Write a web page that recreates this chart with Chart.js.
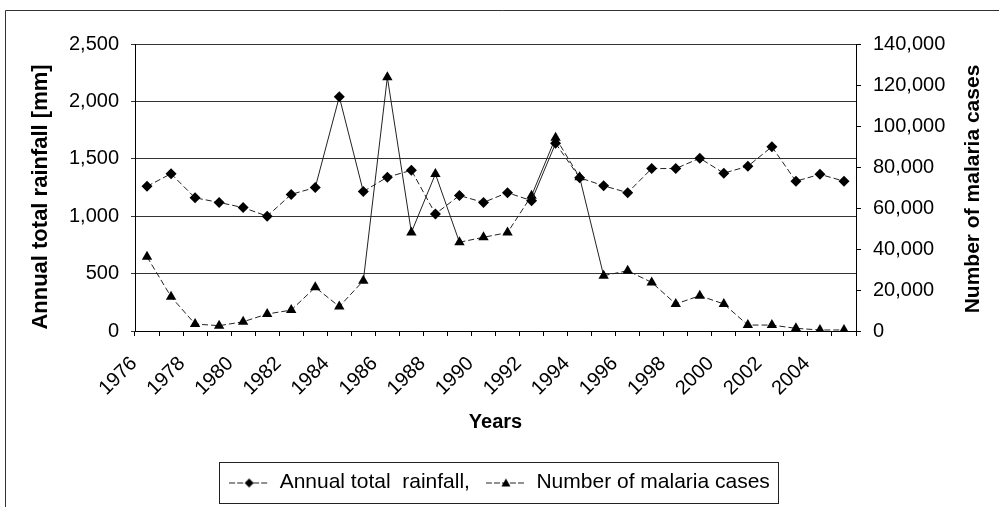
<!DOCTYPE html>
<html>
<head>
<meta charset="utf-8">
<script src="https://cdn.jsdelivr.net/npm/chart.js@4/dist/chart.umd.min.js"></script>
<style>
  html, body { margin: 0; padding: 0; background: #fff; }
</style>
</head>
<body>
<canvas id="chart" width="999" height="507"></canvas>
<script>
// Data
const years = [1976, 1977, 1978, 1979, 1980, 1981, 1982, 1983, 1984, 1985,
               1986, 1987, 1988, 1989, 1990, 1991, 1992, 1993, 1994, 1995,
               1996, 1997, 1998, 1999, 2000, 2001, 2002, 2003, 2004, 2005];

const rainfall = [1260, 1370, 1160, 1120, 1075, 1000, 1190, 1250, 2040, 1215,
                  1340, 1400, 1020, 1180, 1120, 1205, 1135, 1635, 1335, 1265,
                  1205, 1415, 1415, 1505, 1375, 1435, 1605, 1305, 1365, 1305];

const malariaCases = [36200, 16700, 3400, 2600, 4500, 8300, 10200, 21300, 11900, 24500,
                      123800, 48100, 76600, 43300, 45700, 48000, 66000, 94300, 75000, 27000,
                      29400, 23700, 13200, 17200, 13200, 2900, 2900, 1300, 500, 500];

const seriesNames = ['Annual total  rainfall,', 'Number of malaria cases'];
const axisTitles = ['Annual total rainfall [mm]', 'Number of malaria cases', 'Years'];

const FONT = "'Liberation Sans', Arial, sans-serif";
const fmt = v => Number(v).toLocaleString('en-US');

// thin lines look solid when steep, broken when flat in the scan
function segDash(ctx) {
  const dx = Math.abs(ctx.p1.x - ctx.p0.x);
  const dy = Math.abs(ctx.p1.y - ctx.p0.y);
  return dy > 2 * dx ? [] : [6, 3];
}

// small line+marker icons for the legend
function legendIcon(kind) {
  const c = document.createElement('canvas');
  c.width = 40; c.height = 12;
  const g = c.getContext('2d');
  g.strokeStyle = '#222';
  g.lineWidth = 1;
  g.setLineDash([6, 2]);
  g.beginPath(); g.moveTo(0, 6.5); g.lineTo(40, 6.5); g.stroke();
  g.fillStyle = '#000';
  g.beginPath();
  if (kind === 'diamond') {
    g.moveTo(20, 2); g.lineTo(24.5, 6.5); g.lineTo(20, 11); g.lineTo(15.5, 6.5);
  } else {
    g.moveTo(20, 2); g.lineTo(24.5, 10); g.lineTo(15.5, 10);
  }
  g.closePath(); g.fill();
  return c;
}
const legendIcons = [legendIcon('diamond'), legendIcon('triangle')];

function verticalText(ctx, text, x, y, size) {
  ctx.save();
  ctx.translate(x, y);
  ctx.rotate(-Math.PI / 2);
  ctx.font = 'bold ' + size + 'px ' + FONT;
  ctx.fillStyle = '#000';
  ctx.textAlign = 'center';
  ctx.textBaseline = 'middle';
  ctx.fillText(text, 0, 0);
  ctx.restore();
}

const framePlugin = {
  id: 'frame',
  beforeDraw(chart) {
    const ctx = chart.ctx;
    ctx.save();
    ctx.strokeStyle = '#333';
    ctx.lineWidth = 1;
    ctx.beginPath();
    ctx.moveTo(5.5, 507); ctx.lineTo(5.5, 10.5); ctx.lineTo(999, 10.5);
    ctx.stroke();
    ctx.restore();
  },
  afterDraw(chart) {
    const ctx = chart.ctx;
    // both y titles read bottom-to-top
    verticalText(ctx, axisTitles[0], 41, 197, 22);
    verticalText(ctx, axisTitles[1], 973, 189, 21);

    // border round the legend
    const boxes = chart.legend.legendHitBoxes;
    if (boxes && boxes.length) {
      const left = Math.min(...boxes.map(b => b.left)) - 10;
      const right = Math.max(...boxes.map(b => b.left + b.width)) + 8;
      const top = boxes[0].top - 10;
      const bottom = boxes[0].top + boxes[0].height + 10;
      ctx.save();
      ctx.strokeStyle = '#222';
      ctx.lineWidth = 1;
      ctx.strokeRect(Math.round(left) + 0.5, Math.round(top) + 0.5,
                     Math.round(right - left), Math.round(bottom - top));
      ctx.restore();
    }
  }
};

new Chart(document.getElementById('chart'), {
  type: 'line',
  data: {
    labels: years,
    datasets: [{
      label: seriesNames[0],
      data: rainfall,
      yAxisID: 'y',
      borderColor: '#222',
      borderWidth: 1,
      segment: { borderDash: segDash },
      pointStyle: 'rectRot',
      pointRadius: 5.5,
      pointBackgroundColor: '#000',
      pointBorderColor: '#000',
      pointBorderWidth: 0,
      tension: 0
    }, {
      label: seriesNames[1],
      data: malariaCases,
      yAxisID: 'y1',
      borderColor: '#222',
      borderWidth: 1,
      segment: { borderDash: segDash },
      pointStyle: 'triangle',
      pointRadius: 6,
      pointBackgroundColor: '#000',
      pointBorderColor: '#000',
      pointBorderWidth: 0,
      tension: 0
    }]
  },
  options: {
    responsive: false,
    animation: false,
    layout: { padding: { top: 44, bottom: 4, left: 0, right: 0 } },
    scales: {
      x: {
        type: 'category',
        offset: true,
        grid: { display: true, drawOnChartArea: false, drawTicks: true, tickLength: 5, color: '#000', offset: true },
        border: { display: true, color: '#000' },
        ticks: {
          autoSkip: false,
          minRotation: 45,
          maxRotation: 45,
          labelOffset: -13,
          padding: 16,
          color: '#000',
          font: { family: FONT, size: 20 },
          callback: function(value, index) {
            return index % 2 === 0 ? String(years[index]) : '';
          }
        },
        title: {
          display: true,
          text: axisTitles[2],
          color: '#000',
          font: { family: FONT, size: 20, weight: 'bold' },
          padding: { top: 0, bottom: 22 }
        },
        afterFit: s => { s.height = 125; }
      },
      y: {
        position: 'left',
        min: 0,
        max: 2500,
        grid: { color: '#333', lineWidth: 1, tickLength: 4, drawTicks: true },
        border: { display: true, color: '#000' },
        ticks: {
          stepSize: 500,
          padding: 12,
          color: '#000',
          font: { family: FONT, size: 20 },
          callback: v => fmt(v)
        },
        afterFit: s => { s.width = 135; }
      },
      y1: {
        position: 'right',
        min: 0,
        max: 140000,
        grid: { drawOnChartArea: false, color: '#000', tickLength: 5 },
        border: { display: true, color: '#000' },
        ticks: {
          stepSize: 20000,
          padding: 12,
          color: '#000',
          font: { family: FONT, size: 20 },
          callback: v => fmt(v)
        },
        afterFit: s => { s.width = 143; }
      }
    },
    plugins: {
      legend: {
        position: 'bottom',
        labels: {
          usePointStyle: true,
          pointStyleWidth: 40,
          padding: 16,
          color: '#000',
          font: { family: FONT, size: 21 },
          generateLabels: function(chart) {
            const items = Chart.defaults.plugins.legend.labels.generateLabels(chart);
            items.forEach((it, i) => { it.pointStyle = legendIcons[i]; });
            return items;
          }
        }
      },
      tooltip: { enabled: false }
    }
  },
  plugins: [framePlugin]
});
</script>
</body>
</html>
